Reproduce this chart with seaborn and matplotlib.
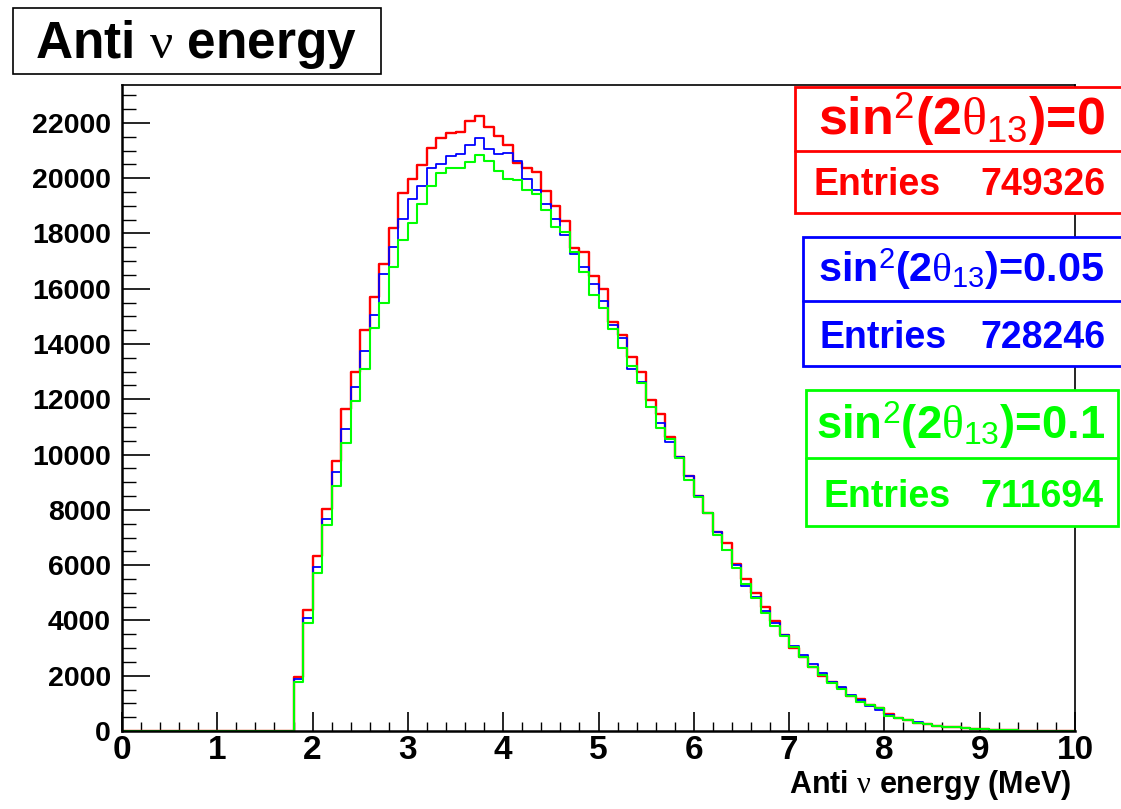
import numpy as np
import pandas as pd
import matplotlib
matplotlib.use("Agg")
import matplotlib.pyplot as plt
import seaborn as sns
from matplotlib.patches import Rectangle
from matplotlib.ticker import MultipleLocator

sns.set_theme(style="white")
plt.rcParams["font.family"] = ["Liberation Sans", "DejaVu Sans"]
plt.rcParams["mathtext.fontset"] = "custom"
plt.rcParams["mathtext.rm"] = "Liberation Sans"
plt.rcParams["mathtext.it"] = "Liberation Serif"
plt.rcParams["mathtext.bf"] = "Liberation Sans:bold"
plt.rcParams["text.color"] = "black"
plt.rcParams["xtick.color"] = "black"
plt.rcParams["ytick.color"] = "black"
plt.rcParams["axes.labelcolor"] = "black"

# ---------------- data (bin contents, 0.1 MeV bins starting at 1.8 MeV) ----------------
x_min, x_max, bin_width = 0.0, 10.0, 0.1
first_bin = 1.8

counts_0 = [1942, 4378, 6332, 8032, 9769, 11650, 12977, 14520, 15690, 16896, 18211, 19452,
            19971, 20478, 21105, 21467, 21647, 21680, 22070, 22262, 21865, 21527,
            21202, 20562, 20358, 20237, 19530, 19000, 18440, 17463, 17342, 16462,
            15992, 14785, 14327, 13520, 12976, 11975, 11457, 10648, 9902, 9226,
            8514, 7899, 7188, 6814, 6042, 5499, 4981, 4474, 3980, 3473,
            3015, 2690, 2328, 1990, 1785, 1568, 1266, 1158, 941, 820,
            615, 483, 380, 300, 241, 193, 157, 133, 109, 80,
            60, 45, 32, 22, 14, 9, 5, 3, 1, 0]
counts_005 = [1870, 4076, 5946, 7670, 9383, 10915, 12434, 13760, 15051, 16534, 17524, 18524,
              19236, 19730, 20358, 20514, 20804, 20864, 21201, 21442, 21056, 20876,
              20924, 20623, 19971, 19574, 19060, 18524, 17960, 17258, 16776, 16173,
              15569, 14689, 14207, 13086, 12638, 11734, 11131, 10444, 9926, 9226,
              8514, 7899, 7188, 6549, 6006, 5258, 4836, 4354, 3920, 3473,
              3087, 2750, 2412, 2087, 1785, 1580, 1302, 1120, 905, 760,
              590, 480, 398, 310, 245, 195, 155, 130, 105, 80,
              58, 44, 31, 21, 14, 9, 5, 3, 1, 0]
counts_01 = [1785, 3896, 5729, 7453, 8876, 10408, 11951, 13086, 14569, 15474, 16800, 17764,
             18367, 19055, 19718, 20201, 20358, 20358, 20598, 20839, 20623, 20273,
             19983, 19935, 19573, 19417, 18850, 18247, 18042, 17318, 16619, 15775,
             15292, 14544, 13869, 13206, 12602, 11734, 10950, 10553, 9865, 9081,
             8478, 7899, 7091, 6549, 5885, 5306, 4800, 4257, 3811, 3437,
             3051, 2690, 2304, 2026, 1725, 1507, 1266, 1061, 941, 820,
             555, 483, 380, 300, 240, 190, 155, 130, 105, 78,
             58, 44, 31, 21, 14, 9, 5, 3, 1, 0]

series_titles = [r"sin$^{2}$(2$\theta_{13}$)=0",
                 r"sin$^{2}$(2$\theta_{13}$)=0.05",
                 r"sin$^{2}$(2$\theta_{13}$)=0.1"]
entries = ["749326", "728246", "711694"]
colors = ["#ff0000", "#0000ff", "#00ff00"]

y_top = 23370
x_ticks_major, x_ticks_minor = 1, 0.2
y_ticks_major, y_ticks_minor = 2000, 500

# ---------------- build table ----------------
n_bins = int(round((x_max - x_min) / bin_width))
lead = int(round((first_bin - x_min) / bin_width))
edges = x_min + bin_width * np.arange(n_bins + 1)
centers = 0.5 * (edges[:-1] + edges[1:])
frames = []
for name, vals in zip(["s0", "s005", "s01"], [counts_0, counts_005, counts_01]):
    c = np.concatenate([np.zeros(lead), np.asarray(vals, float)])
    frames.append(pd.DataFrame({"energy": centers, "count": c, "series": name}))
df = pd.concat(frames, ignore_index=True)

# ---------------- figure ----------------
W, H = 1121, 809
fig = plt.figure(figsize=(W / 100, H / 100), dpi=100)
fig.patch.set_facecolor("white")


def fx(px):
    return px / W


def fy(py):
    return 1 - py / H


ax = fig.add_axes([fx(122), fy(731), fx(1075) - fx(122), fy(85) - fy(731)])
ax.set_facecolor("white")

lws = [1.7, 1.3, 1.5]
for name, col, lw in zip(["s0", "s005", "s01"], colors, lws):
    sns.histplot(data=df[df["series"] == name], x="energy", weights="count",
                 bins=n_bins, binrange=(x_min, x_max), element="step", fill=False,
                 color=col, linewidth=lw, ax=ax)

ax.set_xlim(x_min, x_max)
ax.set_ylim(0, y_top)
ax.set_xlabel("")
ax.set_ylabel("")
ax.xaxis.set_major_locator(MultipleLocator(x_ticks_major))
ax.xaxis.set_minor_locator(MultipleLocator(x_ticks_minor))
ax.yaxis.set_major_locator(MultipleLocator(y_ticks_major))
ax.yaxis.set_minor_locator(MultipleLocator(y_ticks_minor))
ax.tick_params(axis="x", which="major", direction="in", length=13.7, width=1.2,
               color="black", labelcolor="black", labelsize=24, pad=3,
               top=False, bottom=True)
ax.tick_params(axis="x", which="minor", direction="in", length=6.5, width=1.0,
               color="black", top=False, bottom=True)
ax.tick_params(axis="y", which="major", direction="in", length=20, width=1.2,
               color="black", labelcolor="black", labelsize=20.5, pad=8,
               left=True, right=False)
ax.tick_params(axis="y", which="minor", direction="in", length=10, width=1.0,
               color="black", left=True, right=False)
for lab in ax.get_xticklabels() + ax.get_yticklabels():
    lab.set_fontweight("bold")
for s in ["top", "right"]:
    ax.spines[s].set_linewidth(1.2)
    ax.spines[s].set_color("black")
for s in ["left", "bottom"]:
    ax.spines[s].set_linewidth(1.8)
    ax.spines[s].set_color("black")

# axis title
fig.text(fx(1071), fy(793), r"Anti $\nu$ energy (MeV)", ha="right", va="baseline",
         fontsize=22, fontweight="bold", color="black")

# histogram title box
fig.patches.append(Rectangle((fx(13), fy(74)), fx(381) - fx(13), fy(8) - fy(74),
                             transform=fig.transFigure, fill=True, facecolor="white",
                             edgecolor="black", linewidth=1.2, zorder=5))
fig.text(fx(196), fy(58), r"Anti $\nu$ energy", ha="center", va="baseline",
         fontsize=37, fontweight="bold", color="black", zorder=6)

# stats boxes
boxes = [  # left, top, divider, bottom, right (pixels)
    (795, 87, 151, 213, 1124),
    (803, 237, 301, 366, 1124),
    (806, 390, 458, 526, 1118),
]
title_base = [135, 282, 439]
title_size = [37.5, 29.8, 32.8]
entry_base = [195, 348, 507]
entry_left = [813, 820, 823]
entry_right = [1105, 1105, 1103]
for i in range(3):
    l, t, d, b, r = boxes[i]
    col = colors[i]
    fig.patches.append(Rectangle((fx(l), fy(b)), fx(r) - fx(l), fy(t) - fy(b),
                                 transform=fig.transFigure, facecolor="white",
                                 edgecolor=col, linewidth=2.0, zorder=5))
    fig.lines.append(plt.Line2D([fx(l), fx(r)], [fy(d), fy(d)], transform=fig.transFigure,
                                color=col, linewidth=2.0, zorder=6))
    fig.text(fx(961), fy(title_base[i]), series_titles[i], ha="center", va="baseline",
             fontsize=title_size[i], fontweight="bold", color=col, zorder=7)
    fig.text(fx(entry_left[i]), fy(entry_base[i]), "Entries", ha="left", va="baseline",
             fontsize=27, fontweight="bold", color=col, zorder=7)
    fig.text(fx(entry_right[i]), fy(entry_base[i]), entries[i], ha="right", va="baseline",
             fontsize=27, fontweight="bold", color=col, zorder=7)

fig.savefig("out.png", dpi=100, facecolor="white")
